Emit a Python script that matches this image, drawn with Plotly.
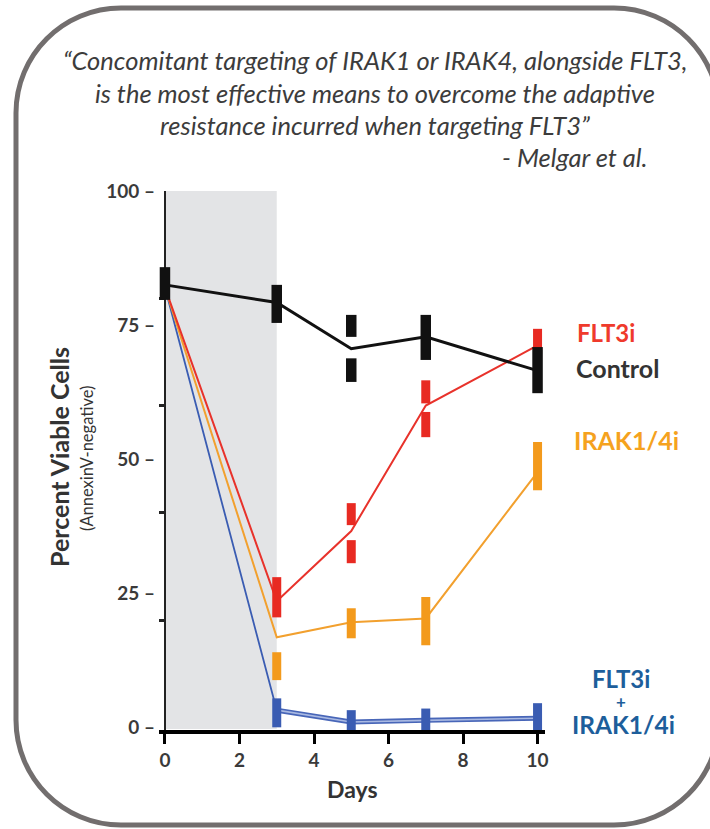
import plotly.graph_objects as go

# ---------------- data ----------------
days = [0, 3, 5, 7, 10]
control = [82.5, 79.2, 70.6, 72.8, 66.5]
flt3i = [82.0, 23.5, 36.6, 60.0, 71.2]
irak = [82.0, 16.8, 19.6, 20.3, 47.6]
combo = [82.0, 3.2, 1.0, 1.3, 1.7]

# error bars as drawn: (day, low, high); some bars are split around the mean line
control_bars = [(0, 79.7, 85.8), (3, 75.4, 82.5), (5, 64.4, 68.8), (5, 72.8, 76.9),
                (7, 68.5, 76.9), (10, 62.3, 70.9)]
flt3i_bars = [(3, 20.5, 28.0), (5, 30.6, 34.9), (5, 37.7, 41.8), (7, 54.1, 58.8),
              (7, 60.4, 64.7), (10, 69.5, 74.3)]
irak_bars = [(3, 8.8, 14.0), (5, 16.6, 22.2), (7, 15.3, 24.3), (10, 44.2, 53.2)]
combo_bars = [(3, 0.0, 5.4), (5, -1.9, 3.2), (7, -1.9, 3.5), (10, -2.0, 4.5)]

treatment_window = [0, 3]
x_ticks = [0, 2, 4, 6, 8, 10]
y_ticks = [0, 25, 50, 75, 100]
y_minor = [20, 40, 60, 80]

quote_lines = [
    "“Concomitant targeting of IRAK1 or IRAK4, alongside FLT3,",
    "is the most effective means to overcome the adaptive",
    "resistance incurred when targeting FLT3”",
]
attribution = "- Melgar et al."

# ---------------- styling ----------------
W, H = 710, 829
L, R, T, B = 159, 165, 191, 99
PW, PH = W - L - R, H - T - B

RED = "#e8322b"
ORANGE = "#f2a02e"
BLUE = "#3a5cb2"
BLACK = "#111111"
FONT = "Lato"


def pxx(p):
    return (p - L) / PW


def pxy(p):
    return (H - B - p) / PH


fig = go.Figure()

# lines
fig.add_trace(go.Scatter(x=days, y=combo, mode="lines", line=dict(color=BLUE, width=1.8),
                         hoverinfo="skip", showlegend=False))
fig.add_trace(go.Scatter(x=days[1:], y=combo[1:], mode="lines",
                         line=dict(color="#4866b8", width=5),
                         hoverinfo="skip", showlegend=False))
fig.add_trace(go.Scatter(x=days[1:], y=combo[1:], mode="lines",
                         line=dict(color="#a9b9e2", width=1.6),
                         hoverinfo="skip", showlegend=False))
fig.add_trace(go.Scatter(x=days, y=irak, mode="lines", line=dict(color=ORANGE, width=2),
                         hoverinfo="skip", showlegend=False))
fig.add_trace(go.Scatter(x=days, y=flt3i, mode="lines", line=dict(color=RED, width=2),
                         hoverinfo="skip", showlegend=False))
fig.add_trace(go.Scatter(x=days, y=control, mode="lines", line=dict(color=BLACK, width=3),
                         hoverinfo="skip", showlegend=False))


def bar_trace(bars, color, thick):
    xs = [b[0] for b in bars]
    lo = [b[1] for b in bars]
    up = [b[2] - b[1] for b in bars]
    return go.Scatter(
        x=xs, y=lo, mode="markers",
        marker=dict(size=1, color="rgba(0,0,0,0)"),
        error_y=dict(type="data", symmetric=False, array=up,
                     arrayminus=[0] * len(bars), color=color,
                     thickness=thick, width=0),
        cliponaxis=False, hoverinfo="skip", showlegend=False)


fig.add_trace(bar_trace(combo_bars, BLUE, 9))
fig.add_trace(bar_trace(irak_bars, "#f39a1c", 9))
fig.add_trace(bar_trace(flt3i_bars, "#e82a22", 9))
fig.add_trace(bar_trace(control_bars, BLACK, 10.5))

# shaded treatment window
shapes = [dict(type="rect", xref="x", yref="y", x0=treatment_window[0],
               x1=treatment_window[1], y0=-0.3, y1=100,
               fillcolor="#e3e4e6", line=dict(width=0), layer="below")]

# rounded frame (pixel geometry converted to paper coords)
fl, fr, ft, fb, rad = 16, 719, 8, 825, 105
k = 0.5523 * rad


def P(x, y):
    return f"{pxx(x):.5f},{pxy(y):.5f}"


path = (f"M {P(fl + rad, ft)} L {P(fr - rad, ft)} "
        f"C {P(fr - rad + k, ft)} {P(fr, ft + rad - k)} {P(fr, ft + rad)} "
        f"L {P(fr, fb - rad)} "
        f"C {P(fr, fb - rad + k)} {P(fr - rad + k, fb)} {P(fr - rad, fb)} "
        f"L {P(fl + rad, fb)} "
        f"C {P(fl + rad - k, fb)} {P(fl, fb - rad + k)} {P(fl, fb - rad)} "
        f"L {P(fl, ft + rad)} "
        f"C {P(fl, ft + rad - k)} {P(fl + rad - k, ft)} {P(fl + rad, ft)} Z")
shapes.append(dict(type="path", xref="paper", yref="paper", path=path,
                   line=dict(color="#726e6e", width=5), layer="above"))

annotations = []


def note(text, cx, cy, font, xanchor="center", angle=0):
    annotations.append(dict(text=text, x=pxx(cx), y=pxy(cy), xref="paper", yref="paper",
                            showarrow=False, xanchor=xanchor, yanchor="middle",
                            textangle=angle, font=font, borderpad=0))


quote_font = dict(family=FONT, size=25.5, color="#3c3c3c", style="italic", weight=400)
for txt, cy in zip(quote_lines, [60, 93, 125]):
    note(txt, 375, cy, quote_font)
note(attribution, 649, 157, quote_font, xanchor="right")

# axis titles
note("Percent Viable Cells", 59, 457,
     dict(family=FONT, size=25, color="#333333", weight="bold"), angle=-90)
note("(AnnexinV-negative)", 87, 459,
     dict(family=FONT, size=16.5, color="#333333"), angle=-90)
note("Days", 352, 789, dict(family=FONT, size=23, color="#333333", weight="bold"))

# series labels
labels = [("FLT3i", 606, 332, "#ef3a2c", 24), ("Control", 617, 368, "#333333", 25),
          ("IRAK1/4i", 626, 440, "#f5a21e", 25), ("FLT3i", 621, 678, "#1d5e9b", 24),
          ("+", 621, 701, "#1d5e9b", 17), ("IRAK1/4i", 623, 724.5, "#1d5e9b", 24.5)]
for txt, cx, cy, col, sz in labels:
    note(txt, cx, cy, dict(family=FONT, size=sz, color=col, weight="bold"))

fig.update_layout(
    width=W, height=H, margin=dict(l=L, r=R, t=T, b=B),
    paper_bgcolor="white", plot_bgcolor="white",
    shapes=shapes, annotations=annotations, showlegend=False,
    xaxis=dict(range=[-0.16, 10.2], tickvals=x_ticks, ticktext=[str(v) for v in x_ticks],
               showline=True, linewidth=4, linecolor="black", showgrid=False,
               zeroline=True, zerolinewidth=2, zerolinecolor="#222222",
               ticks="outside", ticklen=10, tickwidth=2.5, tickcolor="black",
               tickfont=dict(family=FONT, size=19, color="#3a3a3a", weight="bold"),
               layer="below traces", fixedrange=True),
    yaxis=dict(range=[-0.5, 100], tickvals=y_ticks, ticktext=[f"{v} –" for v in y_ticks],
               showline=False, showgrid=False, zeroline=False,
               ticks="", ticklabelstandoff=3,
               minor=dict(tickvals=y_minor, ticks="inside", ticklen=6, tickwidth=3,
                          tickcolor="#222222"),
               tickfont=dict(family=FONT, size=19, color="#3a3a3a", weight="bold"),
               layer="below traces", fixedrange=True),
)

fig.write_html("out.html")
